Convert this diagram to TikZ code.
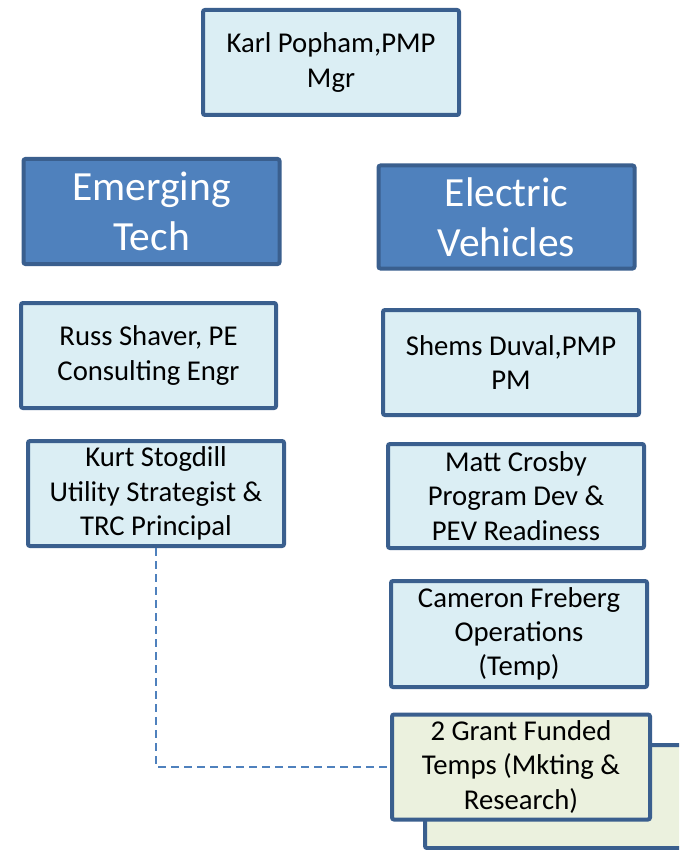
\documentclass[tikz,border=0pt]{standalone}
\usepackage{fontspec}
\setmainfont{Carlito}
\definecolor{bordc}{HTML}{3A5F8E}
\definecolor{lightfill}{HTML}{DBEEF4}
\definecolor{darkfill}{HTML}{4F81BD}
\definecolor{greenfill}{HTML}{EBF1DE}
\definecolor{dashc}{HTML}{4F81BD}
\tikzset{
  box/.style={draw=bordc, line width=4pt, rounded corners=2pt, fill=lightfill,
    inner sep=0pt, align=center, font=\fontsize{28.7}{34.3}\selectfont,
    minimum width=256pt, minimum height=105pt},
  headbox/.style={box, fill=darkfill, text=white, font=\fontsize{41.5}{50}\selectfont},
  greenbox/.style={box, fill=greenfill},
  dashconn/.style={draw=dashc, line width=1.5pt, dash pattern=on 8pt off 5pt}
}
\begin{document}
\begin{tikzpicture}[x=1pt,y=-1pt]
\useasboundingbox (0,0) rectangle (679,850);
\clip (0,0) rectangle (679,850);
\fill[white] (0,0) rectangle (679,850);
\node[box] (karl) at (331,62.5) {Karl Popham,PMP\\Mgr};
\node[headbox] (emerging) at (151.5,211.5) {Emerging\\Tech};
\node[headbox, minimum height=103pt] (electric) at (506.5,217) {Electric\\Vehicles};
\node[box, minimum width=255pt] (russ) at (148.5,355.5) {Russ Shaver, PE\\Consulting Engr};
\node[box] (shems) at (511,362.5) {Shems Duval,PMP\\PM};
\node[box] (kurt) at (156,493.5) {Kurt Stogdill\\Utility Strategist \&\\TRC Principal};
\node[box, minimum height=104pt] (matt) at (516,496) {Matt Crosby\\Program Dev \&\\PEV Readiness};
\node[box, minimum height=106pt] (cameron) at (519,634) {Cameron Freberg\\Operations\\(Temp)};
\draw[draw=bordc, line width=4pt, rounded corners=2pt, fill=greenfill] (425,745) rectangle (720,848);
\node[greenbox, minimum width=258pt] (grant) at (521,767) {2 Grant Funded\\Temps (Mkting \&\\Research)};
\draw[dashconn] (kurt.south) |- (grant.west);
\end{tikzpicture}
\end{document}
